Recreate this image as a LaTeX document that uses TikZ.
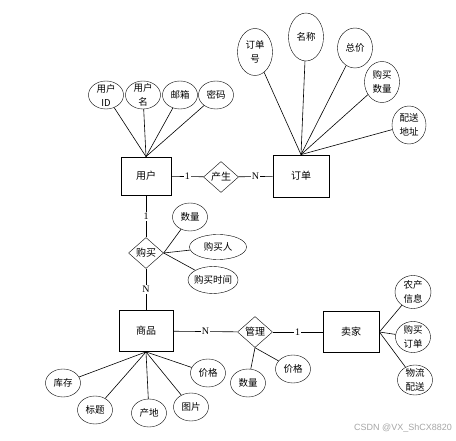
\documentclass[tikz,border=0pt]{standalone}
\usepackage{fontspec}
\setmainfont{Liberation Serif}
\newfontfamily\cjk{Noto Sans CJK SC}
\newfontfamily\wmfont{Liberation Sans}
\usetikzlibrary{shapes.geometric}

\begin{document}
\begin{tikzpicture}[
    x=1pt, y=-1pt,
    entity/.style={draw, line width=0.8pt, minimum width=54pt, minimum height=41pt,
                   font=\cjk\fontsize{10}{12}\selectfont},
    relation/.style={draw, diamond, minimum width=35pt, minimum height=31pt,
                     inner sep=0pt, font=\cjk\fontsize{10}{12}\selectfont},
    attr/.style={draw, ellipse, minimum width=35pt, minimum height=28pt,
                 inner sep=-3pt, align=center, font=\cjk\fontsize{9.5}{14}\selectfont},
    card/.style={fill=white, inner sep=1pt, font=\fontsize{10}{12}\selectfont},
    link/.style={line width=0.6pt},
    watermark/.style={text=black!35, font=\wmfont\fontsize{9}{10}\selectfont}
]
\useasboundingbox (0,0) rectangle (456,441);

% entities and relations
\node[entity, minimum width=50pt, minimum height=38pt] (user) at (146,176) {用户};
\node[entity, minimum width=56pt, minimum height=42pt] (order) at (301,176) {订单};
\node[entity] (goods) at (146,331) {商品};
\node[entity, minimum width=56pt] (seller) at (351,332) {卖家};

\node[relation] (produce) at (221,177) {产生};
\node[relation] (buy) at (146,253) {购买};
\node[relation] (manage) at (255,332) {管理};

\draw[link] (user) -- node[card] {1} (produce);
\draw[link] (produce) -- node[card] {N} (order);
\draw[link] (user) -- node[card] {1} (buy);
\draw[link] (buy) -- node[card] {N} (goods);
\draw[link] (goods) -- node[card] {N} (manage);
\draw[link] (manage) -- node[card] {1} (seller);

% user attributes
\node[attr] (uid) at (106,95) {用户\\ID};
\node[attr] (uname) at (143,95) {用户\\名};
\node[attr] (umail) at (180,95) {邮箱};
\node[attr] (upwd) at (216,95) {密码};
\draw[link] (user.north) -- (uid);
\draw[link] (user.north) -- (uname);
\draw[link] (user.north) -- (umail);
\draw[link] (user.north) -- (upwd);

% order attributes
\node[attr, minimum height=47pt] (ono) at (255,52) {订单\\号};
\node[attr, minimum height=48pt] (oname) at (306,37) {名称};
\node[attr, minimum height=40pt] (ototal) at (355,48) {总价};
\node[attr, minimum height=41pt] (onum) at (382,82) {购买\\数量};
\node[attr, minimum width=34pt, minimum height=38pt] (oaddr) at (409,125) {配送\\地址};
\draw[link] (order.north) -- (ono);
\draw[link] (order.north) -- (oname);
\draw[link] (order.north) -- (ototal);
\draw[link] (order.north) -- (onum);
\draw[link] (order.north) -- (oaddr);

% buy attributes
\node[attr] (bnum) at (190,217) {数量};
\node[attr, minimum width=57pt, minimum height=25pt] (bman) at (218,247) {购买人};
\node[attr, minimum width=50pt, minimum height=27pt] (btime) at (213,280) {购买时间};
\draw[link] (buy.east) -- (bnum);
\draw[link] (buy.east) -- (bman);
\draw[link] (buy.east) -- (btime);

% goods attributes
\node[attr] (gstock) at (63,383) {库存};
\node[attr] (gtitle) at (95,410) {标题};
\node[attr] (gplace) at (149,413) {产地};
\node[attr] (gpic) at (191,407) {图片};
\node[attr] (gprice) at (208,373) {价格};
\draw[link] (goods.south) -- (gstock);
\draw[link] (goods.south) -- (gtitle);
\draw[link] (goods.south) -- (gplace);
\draw[link] (goods.south) -- (gpic);
\draw[link] (goods.south) -- (gprice);

% manage attributes
\node[attr] (mnum) at (248,383) {数量};
\node[attr] (mprice) at (293,369) {价格};
\draw[link] (manage.south) -- (mnum);
\draw[link] (manage.south) -- (mprice);

% seller attributes
\node[attr, minimum width=36pt, minimum height=33pt] (sinfo) at (413,292) {农产\\信息};
\node[attr, minimum height=31pt] (sorder) at (413,337) {购买\\订单};
\node[attr, minimum height=30pt] (sship) at (415,380) {物流\\配送};
\draw[link] (seller.east) -- (sinfo);
\draw[link] (seller.east) -- (sorder);
\draw[link] (seller.east) -- (sship);

\node[watermark] (wm) at (403,428) {CSDN @VX\_ShCX8820};

\end{tikzpicture}
\end{document}
